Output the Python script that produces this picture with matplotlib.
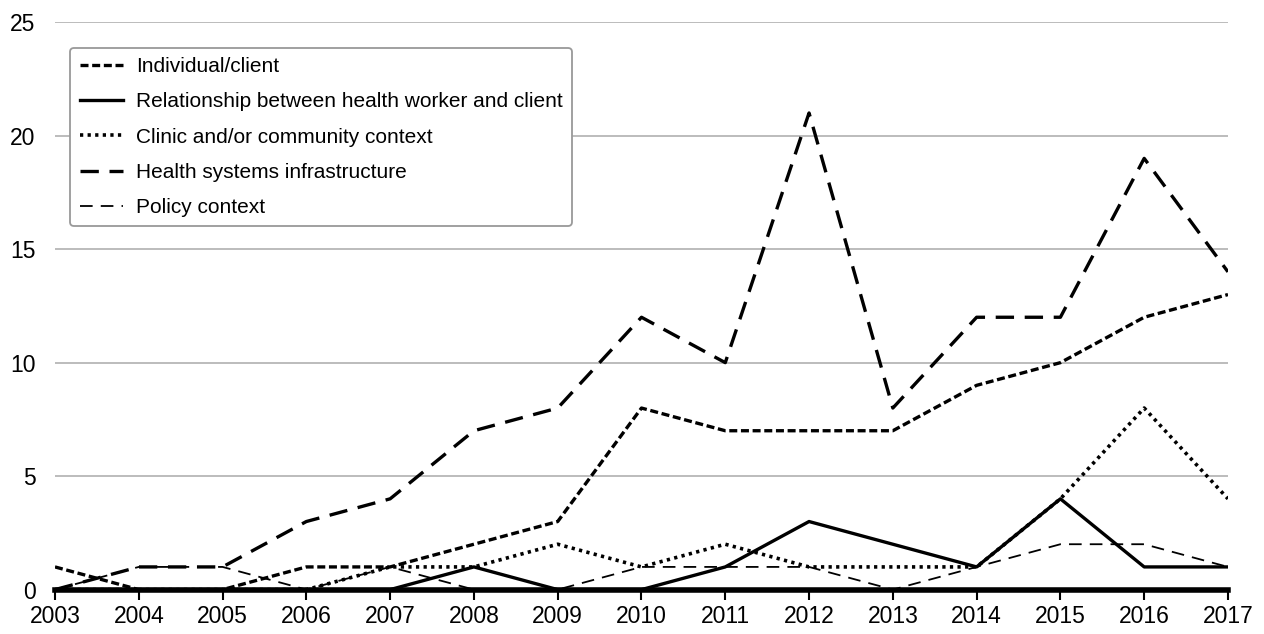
import numpy as np
import matplotlib.pyplot as plt

plt.rcParams['font.family'] = ['Liberation Sans', 'DejaVu Sans']

years = list(range(2003, 2018))
individual = [1, 0, 0, 1, 1, 2, 3, 8, 7, 7, 7, 9, 10, 12, 13]
relationship = [0, 0, 0, 0, 0, 1, 0, 0, 1, 3, 2, 1, 4, 1, 1]
clinic = [0, 0, 0, 0, 1, 1, 2, 1, 2, 1, 1, 1, 4, 8, 4]
health_sys = [0, 1, 1, 3, 4, 7, 8, 12, 10, 21, 8, 12, 12, 19, 14]
policy = [0, 1, 1, 0, 1, 0, 0, 1, 1, 1, 0, 1, 2, 2, 1]

fig = plt.figure(figsize=(12.64, 6.34), dpi=100)
ax = fig.add_axes([0.0435, 0.07, 0.928, 0.895])

ax.plot(years, individual, color="black", lw=2.4, dashes=(2.4, 1.1), label="Individual/client")
ax.plot(years, relationship, color="black", lw=2.4, label="Relationship between health worker and client")
ax.plot(years, clinic, color="black", lw=2.6, dashes=(0.9, 1.2), label="Clinic and/or community context")
ax.plot(years, health_sys, color="black", lw=2.4, dashes=(5.5, 3.2), label="Health systems infrastructure")
ax.plot(years, policy, color="black", lw=1.3, dashes=(7, 4.5), label="Policy context")

ax.set_xlim(2003, 2017)
ax.set_ylim(0, 25)
ax.set_xticks(years)
ax.set_yticks([0, 5, 10, 15, 20, 25])
ax.grid(axis="y", color="#b0b0b0", lw=1.2)
ax.set_axisbelow(True)
for s in ["top", "right", "left"]:
    ax.spines[s].set_visible(False)
ax.spines["bottom"].set_linewidth(4)
ax.spines["bottom"].set_zorder(5)
ax.tick_params(axis="x", length=7, width=1.5, labelsize=16.5, pad=4)
ax.tick_params(axis="y", length=0, labelsize=16.5, pad=14)

leg = ax.legend(loc="upper left", bbox_to_anchor=(0.013, 0.955), fontsize=15,
                frameon=True, fancybox=True, edgecolor="#999999", framealpha=1,
                handlelength=2.1, handletextpad=0.6, borderpad=0.45, labelspacing=0.78,
                borderaxespad=0)
leg.get_frame().set_linewidth(1.3)

fig.savefig("out.png", dpi=100)
